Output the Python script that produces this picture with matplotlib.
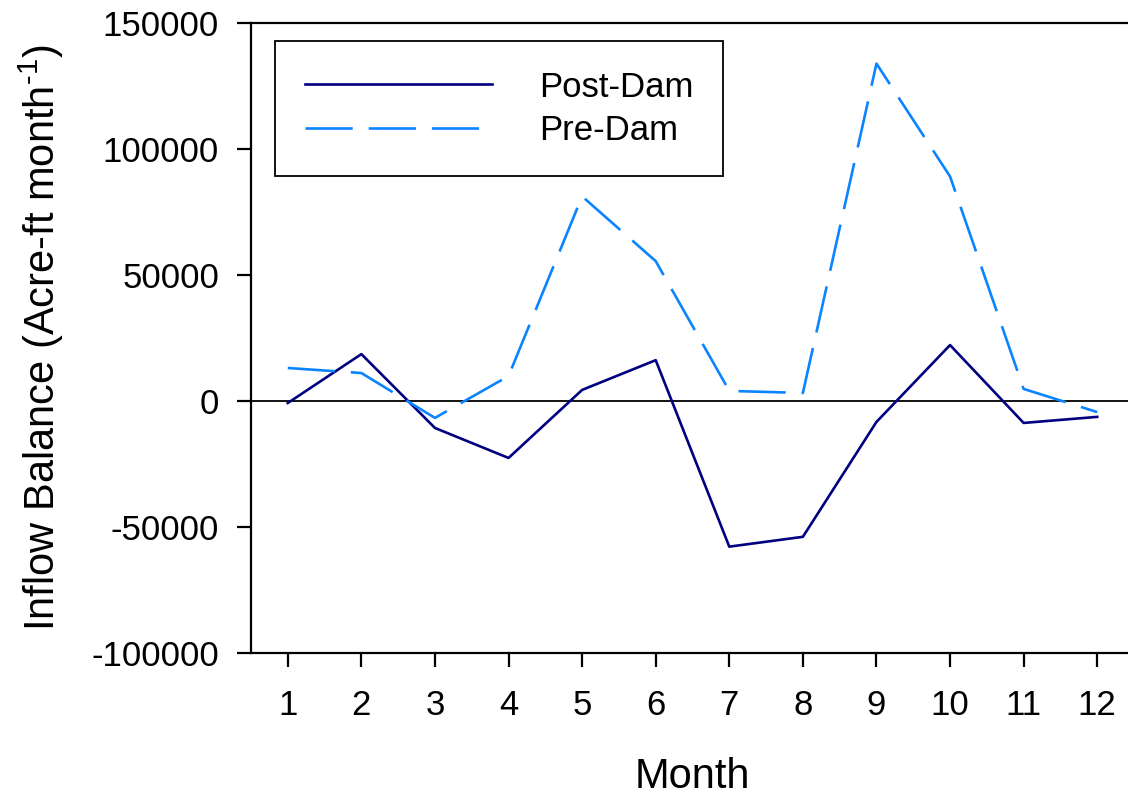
import matplotlib

matplotlib.use("Agg")
import matplotlib.pyplot as plt

plt.rcParams["font.family"] = ["Liberation Sans", "DejaVu Sans"]
plt.rcParams["lines.scale_dashes"] = False
plt.rcParams["axes.unicode_minus"] = False
plt.rcParams["mathtext.fontset"] = "custom"
plt.rcParams["mathtext.rm"] = "Liberation Sans"

months = [1, 2, 3, 4, 5, 6, 7, 8, 9, 10, 11, 12]
post_dam = [-800, 18600, -10700, -22600, 4400, 16200, -57800, -53900, -8300, 22200, -8700, -6300]
pre_dam = [13100, 11100, -6700, 9900, 81200, 55500, 4000, 3200, 133900, 89100, 4800, -4400]
y_ticks = [-100000, -50000, 0, 50000, 100000, 150000]

W, H = 1128, 795
fig = plt.figure(figsize=(W / 100, H / 100), dpi=100)
ax = fig.add_axes([251 / W, (H - 653) / H, (1134 - 251) / W, (653 - 23) / H])

ax.plot(months, post_dam, color="#000080", lw=1.9, label="Post-Dam")
ax.plot(months, pre_dam, color="#0A84FF", lw=1.9, dashes=(34, 11.5), label="Pre-Dam")
ax.axhline(0, color="black", lw=1.3, zorder=1)

ax.set_xlim(0.5, 12.5)
ax.set_ylim(-100000, 150000)
ax.set_xticks(months)
ax.set_yticks(y_ticks)
ax.tick_params(direction="out", length=10, width=1.6, labelsize=25)
ax.tick_params(axis="y", pad=13)
ax.tick_params(axis="x", pad=16)
ax.spines["right"].set_visible(False)
for side in ("left", "bottom", "top"):
    ax.spines[side].set_linewidth(1.6)

ax.set_xlabel("Month", fontsize=30, labelpad=25)
ax.set_ylabel(r"Inflow Balance (Acre-ft month$^{\text{-1}}$)", fontsize=30, labelpad=18)

leg = ax.legend(
    loc="upper left",
    bbox_to_anchor=(275 / W, (H - 41) / H),
    bbox_transform=fig.transFigure,
    fontsize=25,
    frameon=True,
    fancybox=False,
    framealpha=1,
    handlelength=5.4,
    handletextpad=1.35,
    borderpad=0.85,
    labelspacing=0.3,
    borderaxespad=0,
)
leg.get_frame().set_edgecolor("black")
leg.get_frame().set_linewidth(1.3)

fig.savefig("out.png", dpi=100)
